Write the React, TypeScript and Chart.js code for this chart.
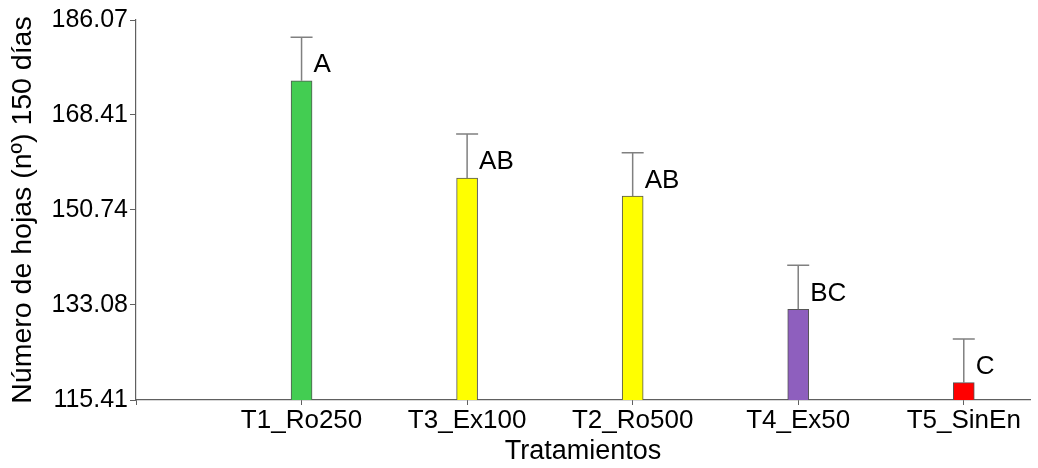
import React, { useEffect, useRef } from "react";
import { Chart, registerables } from "chart.js";

Chart.register(...registerables);

const categories = ["T1_Ro250", "T3_Ex100", "T2_Ro500", "T4_Ex50", "T5_SinEn"];
const positions = [1, 2, 3, 4, 5];
const means = [174.78, 156.69, 153.34, 132.27, 118.63];
const errors = [8.07, 8.18, 8.06, 8.18, 8.12];
const letters = ["A", "AB", "AB", "BC", "C"];
const barColors = ["#43cd52", "#ffff00", "#ffff00", "#8e5fbe", "#ff0000"];
const yTicks = [115.41, 133.08, 150.74, 168.41, 186.07];
const yTitle = "Número de hojas (nº) 150 días";
const xTitle = "Tratamientos";

const FONT = "'Liberation Sans', Arial, sans-serif";

const errorPlugin = {
  id: "errorLetters",
  afterDatasetsDraw(chart: any) {
    const { ctx, scales } = chart;
    const xs = scales.x;
    const ys = scales.y;
    ctx.save();
    positions.forEach((p, i) => {
      const x = xs.getPixelForValue(p);
      const yTop = ys.getPixelForValue(means[i]);
      const yErr = ys.getPixelForValue(means[i] + errors[i]);
      ctx.strokeStyle = "#808080";
      ctx.lineWidth = 1.5;
      ctx.beginPath();
      ctx.moveTo(x, yTop);
      ctx.lineTo(x, yErr);
      ctx.moveTo(x - 11, yErr);
      ctx.lineTo(x + 11, yErr);
      ctx.stroke();
      ctx.fillStyle = "#000";
      ctx.font = `26px ${FONT}`;
      ctx.textAlign = "left";
      ctx.textBaseline = "middle";
      ctx.fillText(letters[i], x + 12, yErr + 28);
    });
    ctx.restore();
  },
};

export default function App() {
  const ref = useRef<HTMLCanvasElement | null>(null);
  useEffect(() => {
    document.body.style.margin = "0";
    const canvas = ref.current!;
    const chart = new Chart(canvas, {
      type: "bar",
      data: {
        datasets: [
          {
            data: positions.map((p, i) => ({ x: p, y: means[i] })),
            backgroundColor: barColors,
            borderColor: "#555555",
            borderWidth: 1,
            barThickness: 21,
          } as any,
        ],
      },
      options: {
        responsive: false,
        animation: false,
        layout: { padding: { left: 0, right: 8, top: 20, bottom: 0 } },
        plugins: { legend: { display: false }, tooltip: { enabled: false } },
        scales: {
          x: {
            type: "linear",
            min: 0,
            max: 5.4,
            offset: false,
            afterBuildTicks: (s: any) => {
              s.ticks = [0, ...positions].map((v) => ({ value: v }));
            },
            afterFit: (s: any) => {
              s.height = 68;
            },
            ticks: {
              autoSkip: false,
              maxRotation: 0,
              padding: 0,
              color: "#000",
              font: { family: FONT, size: 26 },
              callback: (v: any) => {
                const idx = positions.indexOf(Number(v));
                return idx >= 0 ? categories[idx] : "";
              },
            },
            grid: { offset: false, drawOnChartArea: false, drawTicks: true, tickLength: 5, color: "#606060" },
            border: { display: true, color: "#606060", width: 1.2 },
            title: {
              display: true,
              text: xTitle,
              color: "#000",
              font: { family: FONT, size: 27 },
              padding: { top: 0, bottom: 0 },
            },
          },
          y: {
            type: "linear",
            min: yTicks[0],
            max: yTicks[yTicks.length - 1],
            afterBuildTicks: (s: any) => {
              s.ticks = yTicks.map((v) => ({ value: v }));
            },
            afterFit: (s: any) => {
              s.width = 136;
            },
            ticks: {
              padding: 2,
              color: "#000",
              font: { family: FONT, size: 25 },
              callback: (v: any) => Number(v).toFixed(2),
            },
            grid: { drawOnChartArea: false, drawTicks: true, tickLength: 6, color: "#606060" },
            border: { display: true, color: "#606060", width: 1.2 },
            title: {
              display: true,
              text: yTitle,
              color: "#000",
              font: { family: FONT, size: 28.5 },
              padding: { top: 6, bottom: 0 },
            },
          },
        },
      } as any,
      plugins: [errorPlugin],
    });
    return () => chart.destroy();
  }, []);
  return (
    <div style={{ width: 1038, height: 468 }}>
      <canvas ref={ref} width={1038} height={468} />
    </div>
  );
}
